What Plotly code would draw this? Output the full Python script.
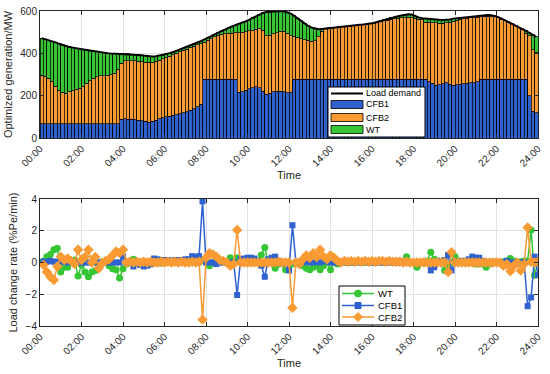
import plotly.graph_objects as go
from plotly.subplots import make_subplots

# ---- data: 10-min resolution, 144 intervals over 24 h ----
N = 144
hours_bar = [(k + 0.5) / 6 for k in range(N)]   # bar centres (h)
hours_pt = [(k + 1) / 6 for k in range(N)]      # change-rate sample times (h)

load_demand = [
    471, 467, 462, 457, 452, 445, 439, 434, 430, 427, 425, 423,
    420, 416, 413, 410, 407, 405, 403, 401, 399, 398, 397, 397,
    397, 397, 396, 395, 393, 391, 388, 386, 385, 386, 389, 392,
    397, 401, 406, 412, 418, 424, 430, 437, 444, 451, 458, 465,
    473, 481, 490, 498, 506, 514, 521, 527, 533, 539, 545, 550,
    558, 567, 576, 585, 591, 595, 597, 599, 600, 600, 599, 595,
    588, 577, 565, 553, 541, 530, 522, 517, 514, 515, 517, 520,
    522, 524, 526, 527, 528, 530, 531, 533, 535, 536, 538, 540,
    543, 548, 553, 558, 563, 567, 571, 575, 579, 583, 585, 583,
    576, 570, 566, 564, 563, 562, 561, 559, 558, 558, 560, 564,
    566, 567, 568, 569, 571, 573, 575, 578, 580, 581, 580, 577,
    571, 564, 556, 549, 541, 533, 524, 515, 506, 497, 488, 478]

cfb1 = [
    68, 68, 68, 68, 68, 68, 68, 68, 68, 68, 68, 68,
    68, 68, 68, 68, 68, 68, 68, 68, 68, 68, 68, 88,
    90, 89, 88, 86, 84, 82, 78, 74, 78, 84, 90, 96,
    100, 103, 107, 111, 115, 119, 124, 131, 139, 148, 160, 278,
    278, 278, 278, 278, 278, 278, 278, 278, 278, 215, 219, 226,
    232, 238, 242, 238, 222, 206, 212, 218, 221, 221, 218, 214,
    215, 278, 278, 278, 278, 278, 278, 278, 278, 278, 278, 278,
    278, 278, 278, 278, 278, 278, 278, 278, 278, 278, 278, 278,
    278, 278, 278, 278, 278, 278, 278, 278, 278, 278, 278, 278,
    278, 278, 278, 278, 265, 258, 250, 252, 256, 262, 255, 250,
    252, 254, 256, 258, 260, 262, 265, 278, 278, 278, 278, 278,
    278, 278, 278, 278, 278, 278, 278, 278, 278, 200, 127, 120]

cfb2 = [
    229, 224, 215, 200, 177, 157, 147, 144, 150, 156, 162, 168,
    177, 190, 202, 214, 222, 226, 227, 228, 230, 237, 257, 264,
    274, 276, 277, 278, 278, 278, 280, 283, 280, 278, 278, 278,
    280, 284, 287, 290, 293, 295, 296, 295, 294, 292, 286, 174,
    184, 192, 200, 207, 212, 215, 217, 218, 219, 283, 281, 277,
    275, 272, 271, 277, 286, 278, 274, 274, 277, 283, 287, 282,
    269, 202, 198, 192, 187, 183, 178, 182, 200, 227, 238, 241,
    243, 245, 247, 248, 249, 251, 252, 254, 256, 257, 259, 261,
    263, 267, 271, 275, 279, 282, 285, 287, 289, 291, 292, 291,
    287, 284, 280, 270, 281, 287, 294, 290, 287, 283, 293, 302,
    304, 306, 307, 307, 307, 307, 306, 296, 298, 298, 296, 294,
    289, 283, 276, 269, 261, 253, 243, 233, 217, 283, 290, 282]

wt = [
    174, 175, 179, 189, 207, 220, 224, 222, 212, 203, 195, 187,
    175, 158, 143, 128, 117, 111, 108, 105, 101, 93, 72, 45,
    33, 32, 31, 31, 31, 31, 30, 29, 27, 24, 21, 18,
    17, 14, 12, 11, 10, 10, 10, 11, 11, 11, 12, 13,
    11, 11, 12, 13, 16, 21, 26, 31, 36, 41, 45, 47,
    51, 57, 63, 70, 83, 111, 111, 107, 102, 96, 94, 99,
    104, 97, 89, 83, 76, 69, 66, 57, 36, 10, 1, 1,
    1, 1, 1, 1, 1, 1, 1, 1, 1, 1, 1, 1,
    2, 3, 4, 5, 6, 7, 8, 10, 12, 14, 15, 14,
    11, 8, 8, 16, 17, 17, 17, 17, 15, 13, 12, 12,
    10, 7, 5, 4, 4, 4, 4, 4, 4, 5, 6, 5,
    4, 3, 2, 2, 2, 2, 3, 4, 11, 14, 71, 76]

rate_wt = [
    0.1, 0.37, 0.5, 0.8, 0.9, -0.6, -0.3, -0.3, 0.0, 0.15, -0.85, -0.15,
    -0.6, -0.9, -0.6, -0.5, -0.2, 0.05, 0.0, -0.2, -0.4, -0.45, -0.97, -0.4,
    -0.1, 0.1, 0.2, 0.0, 0.05, 0.0, -0.05, -0.1, 0.0, 0.05, -0.05, 0.0,
    0.05, 0.0, 0.05, 0.1, 0.05, 0.0, 0.0, 0.05, 0.1, 0.0, 0.15, 0.3,
    -0.2, 0.0, 0.05, 0.1, 0.05, 0.0, 0.3, 0.05, 0.3, 0.0, 0.05, 0.0,
    0.0, 0.05, 0.1, 0.47, 0.95, 0.0, 0.05, -0.37, -0.1, 0.0, -0.45, -0.2,
    -0.1, 0.0, -0.1, -0.2, -0.37, -0.45, -0.3, -0.2, -0.45, -0.2, 0.0, -0.45,
    0.0, -0.1, 0.0, 0.05, 0.0, 0.0, 0.0, 0.05, 0.0, 0.0, 0.05, 0.0,
    0.0, 0.05, 0.0, 0.0, 0.1, 0.0, 0.0, 0.1, 0.05, 0.37, 0.0, 0.0,
    -0.3, 0.0, 0.05, 0.1, 0.65, 0.2, 0.1, 0.05, -0.5, -0.2, 0.0, 0.37,
    0.1, 0.0, 0.05, 0.0, 0.0, -0.1, -0.1, -0.1, -0.3, -0.1, 0.0, 0.05,
    0.0, 0.05, 0.1, 0.25, 0.1, 0.0, 0.05, 0.1, 0.1, 2.05, -0.8, 0.0]

rate_cfb1 = [
    0.05, 0.05, 0.1, 0.05, 0.05, 0.05, 0.05, 0.0, 0.05, 0.0, 0.0, 0.0,
    0.0, 0.0, 0.0, 0.0, 0.0, 0.0, 0.0, 0.0, 0.0, 0.0, 0.0, 0.37,
    0.0, 0.0, -0.25, -0.1, -0.15, -0.25, -0.2, -0.1, 0.25, 0.2, 0.15, 0.15,
    0.15, 0.1, 0.15, 0.15, 0.15, 0.2, 0.2, 0.4, 0.35, 0.4, 3.85, 0.0,
    0.0, 0.0, -0.1, 0.0, 0.0, 0.0, 0.0, 0.0, -2.05, 0.2, 0.25, 0.3,
    0.3, 0.25, 0.1, -0.2, -0.9, 0.2, 0.3, 0.37, 0.1, 0.0, -0.1, -0.5,
    2.35, 0.0, 0.05, 0.0, 0.05, 0.0, 0.0, 0.05, 0.0, 0.1, 0.05, 0.0,
    0.0, 0.0, 0.05, 0.0, 0.0, 0.0, 0.05, 0.0, 0.0, 0.05, 0.0, 0.0,
    0.0, 0.05, 0.0, 0.0, 0.0, 0.05, 0.0, 0.0, 0.05, 0.0, 0.0, 0.0,
    0.0, 0.0, 0.0, 0.0, -0.5, -0.3, 0.0, 0.1, 0.15, 0.47, -0.5, 0.05,
    0.05, 0.1, 0.1, 0.2, 0.37, 0.3, 0.3, 0.1, 0.0, 0.0, 0.05, 0.0,
    0.0, 0.0, 0.1, 0.0, 0.0, 0.0, 0.0, 0.0, -2.75, -2.2, 0.37, -0.8]

rate_cfb2 = [
    -0.15, -0.6, -0.9, -1.1, -0.25, 0.37, 0.15, 0.25, 0.1, -0.1, 0.8, 0.15,
    0.35, 0.8, 0.0, 0.35, -0.37, -0.05, 0.1, 0.2, 0.45, 0.7, 0.6, 0.8,
    0.0, 0.05, 0.0, 0.05, 0.0, 0.05, 0.0, 0.05, 0.0, 0.0, 0.05, 0.0,
    0.05, 0.0, 0.05, 0.0, 0.05, 0.0, 0.0, 0.05, 0.0, 0.05, -3.6, 0.3,
    0.58, 0.5, 0.37, 0.15, 0.1, 0.0, -0.2, -0.1, 2.05, 0.0, 0.0, 0.0,
    0.0, 0.0, 0.0, 0.0, 0.0, 0.0, 0.0, 0.0, 0.05, 0.0, 0.0, 0.0,
    -2.85, 0.0, -0.1, 0.2, 0.45, 0.3, 0.58, 0.35, 0.8, 0.37, 0.2, 0.45,
    0.3, 0.1, 0.0, 0.1, 0.05, 0.1, 0.05, 0.1, 0.05, 0.1, 0.05, 0.1,
    0.05, 0.1, 0.1, 0.05, 0.1, 0.05, 0.05, 0.05, 0.0, 0.05, 0.0, 0.0,
    0.0, 0.0, 0.0, 0.0, 0.0, 0.0, 0.0, 0.0, 0.0, -0.6, 0.65, 0.0,
    0.0, 0.0, 0.0, 0.0, 0.0, 0.0, 0.0, 0.0, 0.0, 0.0, 0.0, 0.0,
    0.0, -0.2, -0.1, -0.55, -0.2, 0.0, -0.5, -0.1, 2.2, 0.05, 0.0, 0.05]

tick_hours = [0, 2, 4, 6, 8, 10, 12, 14, 16, 18, 20, 22, 24]
tick_labels = ["00:00", "02:00", "04:00", "06:00", "08:00", "10:00", "12:00",
               "14:00", "16:00", "18:00", "20:00", "22:00", "24:00"]

BLUE = "#2F62CF"
ORANGE = "#F99A33"
GREEN = "#35C535"
FONT = "Liberation Sans"
TXT = "#262626"

W, H = 550, 374
ML, MR, MT, MB = 40, 12, 11, 48
PW, PH = W - ML - MR, H - MT - MB


def px(xp):  # pixel -> paper x
    return (xp - ML) / PW


def py(yp):  # pixel -> paper y
    return (H - MB - yp) / PH


fig = make_subplots(rows=2, cols=1)

fig.add_trace(go.Scatter(x=hours_bar, y=load_demand, mode="lines", name="Load demand",
                         line=dict(color="black", width=2), showlegend=False), row=1, col=1)
for name, vals, col in [("CFB1", cfb1, BLUE), ("CFB2", cfb2, ORANGE), ("WT", wt, GREEN)]:
    fig.add_trace(go.Bar(x=hours_bar, y=vals, name=name, width=1 / 6,
                         marker=dict(color=col, line=dict(color="black", width=0.7)),
                         showlegend=False), row=1, col=1)

for name, vals, col, sym, sz in [("WT", rate_wt, GREEN, "circle", 7),
                                 ("CFB1", rate_cfb1, BLUE, "square", 6),
                                 ("CFB2", rate_cfb2, ORANGE, "diamond", 8)]:
    fig.add_trace(go.Scatter(x=hours_pt, y=vals, mode="lines+markers", name=name,
                             line=dict(color=col, width=1.5),
                             marker=dict(symbol=sym, size=sz, color=col),
                             showlegend=False), row=2, col=1)

axis_common = dict(showline=True, linecolor=TXT, linewidth=1, mirror="ticks",
                   ticks="inside", ticklen=4, tickcolor=TXT, automargin=False,
                   showgrid=True, gridcolor="#E2E2E2", gridwidth=1, zeroline=False,
                   tickfont=dict(family=FONT, size=10, color=TXT))

top_dom = [py(138), 1.0]
bot_dom = [0.0, py(199)]
for r in (1, 2):
    fig.update_xaxes(range=[0, 24], tickvals=tick_hours, ticktext=tick_labels, tickangle=-45,
                     title=dict(text="Time", font=dict(family=FONT, size=11, color=TXT),
                                standoff=1),
                     row=r, col=1, **axis_common)
fig.update_yaxes(range=[0, 600], tickvals=[0, 200, 400, 600], domain=top_dom,
                 title=dict(text="Optimized generation/MW",
                            font=dict(family=FONT, size=11, color=TXT), standoff=5),
                 row=1, col=1, **axis_common)
fig.update_yaxes(range=[-4, 4], tickvals=[-4, -2, 0, 2, 4], domain=bot_dom,
                 title=dict(text="Load change rate (%Pe/min)",
                            font=dict(family=FONT, size=11, color=TXT), standoff=5),
                 row=2, col=1, **axis_common)

# ---- legends (compact boxes like the original) ----
shapes = []
annotations = []


def legend_box(x0, y0, x1, y1):
    shapes.append(dict(type="rect", xref="paper", yref="paper", x0=px(x0), x1=px(x1),
                       y0=py(y1), y1=py(y0), fillcolor="white",
                       line=dict(color="black", width=1), layer="above"))


def legend_text(x, y, text, size=9.0):
    annotations.append(dict(xref="paper", yref="paper", x=px(x), y=py(y), text=text,
                            showarrow=False, xanchor="left", yanchor="middle", borderpad=0,
                            font=dict(family=FONT, size=size, color="black")))


# top legend
legend_box(328, 87, 425, 137)
shapes.append(dict(type="line", xref="paper", yref="paper", x0=px(331), x1=px(363),
                   y0=py(93.5), y1=py(93.5), line=dict(color="black", width=2), layer="above"))
legend_text(365, 93.5, "Load demand")
for yc, col, label in [(104.5, BLUE, "CFB1"), (117.5, ORANGE, "CFB2"), (129.5, GREEN, "WT")]:
    shapes.append(dict(type="rect", xref="paper", yref="paper", x0=px(331), x1=px(363),
                       y0=py(yc + 4), y1=py(yc - 4), fillcolor=col,
                       line=dict(color="black", width=0.8), layer="above"))
    legend_text(365, yc, label)

# bottom legend
legend_box(339, 286, 405, 325)
for yc, col, sym, label in [(293.5, GREEN, "circle", "WT"), (305.5, BLUE, "square", "CFB1"),
                            (317, ORANGE, "diamond", "CFB2")]:
    shapes.append(dict(type="line", xref="paper", yref="paper", x0=px(342), x1=px(374),
                       y0=py(yc), y1=py(yc), line=dict(color=col, width=1.5), layer="above"))
    cx, r = 358, 3.5
    if sym == "circle":
        shapes.append(dict(type="circle", xref="paper", yref="paper", x0=px(cx - r), x1=px(cx + r),
                           y0=py(yc + r), y1=py(yc - r), fillcolor=col,
                           line=dict(color=col, width=1), layer="above"))
    elif sym == "square":
        rr = 3
        shapes.append(dict(type="rect", xref="paper", yref="paper", x0=px(cx - rr), x1=px(cx + rr),
                           y0=py(yc + rr), y1=py(yc - rr), fillcolor=col,
                           line=dict(color=col, width=1), layer="above"))
    else:
        rr = 4.5
        path = "M {} {} L {} {} L {} {} L {} {} Z".format(
            px(cx), py(yc - rr), px(cx + rr), py(yc), px(cx), py(yc + rr), px(cx - rr), py(yc))
        shapes.append(dict(type="path", xref="paper", yref="paper", path=path, fillcolor=col,
                           line=dict(color=col, width=1), layer="above"))
    legend_text(377, yc, label, size=9.5)

fig.update_layout(
    width=W, height=H, barmode="stack", bargap=0,
    margin=dict(l=ML, r=MR, t=MT, b=MB, autoexpand=False),
    paper_bgcolor="white", plot_bgcolor="white",
    font=dict(family=FONT, size=10, color="black"),
    showlegend=False, shapes=shapes, annotations=annotations,
)

fig.write_html("out.html",
               config={"displayModeBar": False, "staticPlot": True},
               post_script="document.body.style.margin='0px';"
                           "document.body.style.overflow='hidden';")
